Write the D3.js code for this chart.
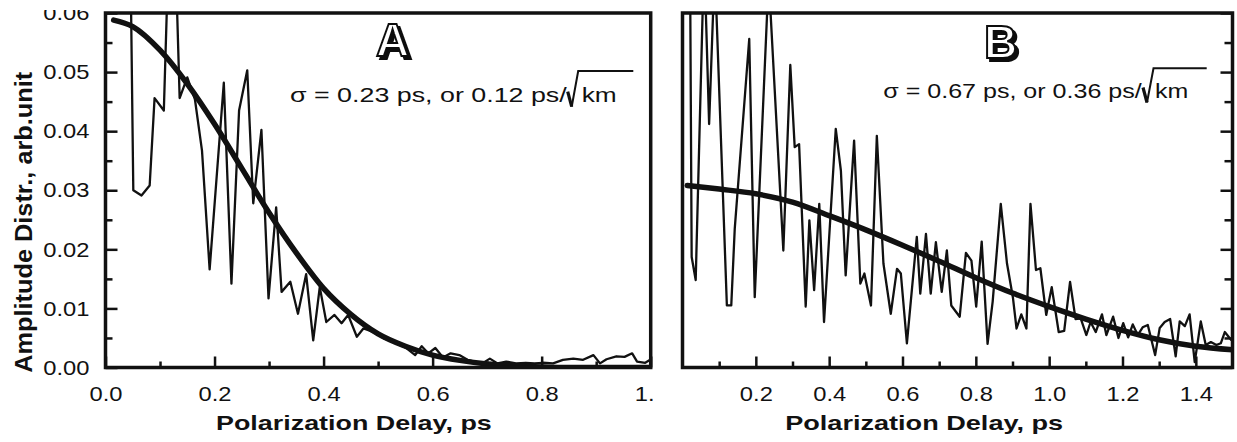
<!DOCTYPE html>
<html>
<head>
<meta charset="utf-8">
<script src="https://cdn.jsdelivr.net/npm/d3@7"></script>
<style>
  body { margin: 0; background: #fff; }
  svg text { font-family: "Liberation Sans", Arial, Helvetica, sans-serif; fill: #111; }
</style>
</head>
<body>
<svg id="fig" width="1237" height="442"></svg>
<script>
// ---- panel A: measured distribution, delay in ps / amplitude in arb.unit
const delayA = [0.045, 0.051, 0.066, 0.081, 0.090, 0.107, 0.122, 0.136, 0.150, 0.164,
  0.177, 0.191, 0.217, 0.231, 0.245, 0.260, 0.271, 0.286, 0.299, 0.313,
  0.323, 0.339, 0.353, 0.368, 0.381, 0.393, 0.405, 0.420, 0.433, 0.445,
  0.461, 0.473, 0.486, 0.499, 0.511, 0.524, 0.537, 0.550, 0.568, 0.580,
  0.592, 0.605, 0.619, 0.633, 0.649, 0.664, 0.679, 0.691, 0.705, 0.719,
  0.735, 0.753, 0.771, 0.787, 0.802, 0.821, 0.839, 0.858, 0.876, 0.895,
  0.907, 0.919, 0.937, 0.952, 0.966, 0.975, 0.990, 0.999];
const ampA = [0.075, 0.0300, 0.0291, 0.0308, 0.0456, 0.0435, 0.090, 0.0456, 0.0491, 0.0454,
  0.0367, 0.0166, 0.0482, 0.0142, 0.0435, 0.0503, 0.0278, 0.0402, 0.0117, 0.0271,
  0.0128, 0.0145, 0.0091, 0.0158, 0.0046, 0.0136, 0.0077, 0.0089, 0.0075, 0.0089,
  0.0052, 0.0066, 0.0062, 0.0057, 0.0049, 0.0046, 0.0039, 0.0034, 0.0021, 0.0036,
  0.0024, 0.0033, 0.0017, 0.0024, 0.0021, 0.0013, 0.0009, 0.0007, 0.0015, 0.0007,
  0.0010, 0.0007, 0.0008, 0.0007, 0.0008, 0.0007, 0.0013, 0.0015, 0.0013, 0.0021,
  0.0007, 0.0014, 0.0019, 0.0018, 0.0024, 0.0010, 0.0008, 0.0013];
// panel A: gaussian fit curve
const fitDelayA = [0.015, 0.05, 0.10, 0.15, 0.20, 0.25, 0.30, 0.35, 0.40, 0.45,
  0.50, 0.55, 0.60, 0.65, 0.70, 0.75, 0.80, 0.85, 1.00];
const fitA = [0.0588, 0.0577, 0.0537, 0.0480, 0.0412, 0.0337, 0.0262, 0.0194, 0.0134, 0.0090,
  0.0057, 0.0036, 0.0021, 0.0012, 0.0006, 0.0003, 0.0001, 0.0, 0.0];

// ---- panel B
const delayB = [0.020, 0.025, 0.036, 0.059, 0.0726, 0.088, 0.121, 0.133, 0.1425, 0.182,
  0.197, 0.235, 0.275, 0.294, 0.306, 0.318, 0.336, 0.346, 0.359, 0.373,
  0.386, 0.418, 0.432, 0.445, 0.468, 0.485, 0.496, 0.514, 0.530, 0.548,
  0.568, 0.585, 0.5955, 0.612, 0.639, 0.6485, 0.664, 0.677, 0.691, 0.707,
  0.721, 0.733, 0.756, 0.773, 0.788, 0.801, 0.816, 0.832, 0.846, 0.868,
  0.885, 0.901, 0.911, 0.924, 0.938, 0.949, 0.964, 0.976, 0.992, 1.007,
  1.026, 1.041, 1.057, 1.072, 1.086, 1.1015, 1.113, 1.127, 1.144, 1.156,
  1.1745, 1.189, 1.202, 1.2155, 1.228, 1.2415, 1.255, 1.269, 1.289, 1.3015,
  1.315, 1.330, 1.345, 1.356, 1.370, 1.383, 1.397, 1.4135, 1.427, 1.441,
  1.456, 1.468, 1.479, 1.497];
const ampB = [0.075, 0.0187, 0.0148, 0.070, 0.0412, 0.068, 0.0105, 0.0105, 0.0235, 0.0556,
  0.0119, 0.066, 0.0198, 0.0512, 0.0373, 0.0378, 0.0103, 0.0249, 0.0131, 0.0277,
  0.0077, 0.0404, 0.0333, 0.0156, 0.0384, 0.0142, 0.0159, 0.0105, 0.0392, 0.0176,
  0.0091, 0.0167, 0.0159, 0.0041, 0.0221, 0.0125, 0.0226, 0.0125, 0.0212, 0.0128,
  0.0198, 0.0105, 0.0086, 0.0194, 0.0181, 0.0103, 0.0213, 0.0040, 0.0112, 0.0277,
  0.0176, 0.0119, 0.0066, 0.0090, 0.0066, 0.0277, 0.0165, 0.0168, 0.0089, 0.0136,
  0.0060, 0.0062, 0.0145, 0.0082, 0.0083, 0.0055, 0.0077, 0.0060, 0.0090, 0.0055,
  0.0086, 0.0050, 0.0075, 0.0051, 0.0073, 0.0055, 0.0068, 0.0072, 0.0021, 0.0067,
  0.0077, 0.0082, 0.0019, 0.0078, 0.0070, 0.0090, 0.0009, 0.0078, 0.0038, 0.0043,
  0.0038, 0.0041, 0.0060, 0.0046];
const fitDelayB = [0.013, 0.10, 0.20, 0.30, 0.40, 0.50, 0.60, 0.70, 0.80, 0.90,
  1.00, 1.10, 1.20, 1.30, 1.40, 1.50];
const fitB = [0.0308, 0.0302, 0.0294, 0.0280, 0.0257, 0.0233, 0.0207, 0.0180, 0.0152, 0.0126,
  0.0103, 0.0082, 0.0063, 0.0047, 0.0036, 0.0030];

// ---- ticks and texts
const yTicks = [0, 0.01, 0.02, 0.03, 0.04, 0.05, 0.06];
const yMinor = [0.005, 0.015, 0.025, 0.035, 0.045, 0.055];
const xTicksA = [0, 0.2, 0.4, 0.6, 0.8, 1.0];
const xMinorA = [0.1, 0.3, 0.5, 0.7, 0.9];
const xTicksB = [0.2, 0.4, 0.6, 0.8, 1.0, 1.2, 1.4];
const xMinorB = [0.1, 0.3, 0.5, 0.7, 0.9, 1.1, 1.3];
const yTitle = "Amplitude Distr., arb.unit";
const xTitle = "Polarization Delay, ps";
const sigmaA = "σ = 0.23 ps, or 0.12 ps/";
const sigmaB = "σ = 0.67 ps, or 0.36 ps/";

const svg = d3.select("#fig");
svg.append("rect").attr("width", 1237).attr("height", 442).attr("fill", "#fff");

const TOP = 13, BOT = 367.5;
const y = d3.scaleLinear().domain([0, 0.06]).range([BOT, TOP]);
const xA = d3.scaleLinear().domain([0, 1.0]).range([105.5, 650.7]);
const xB = d3.scaleLinear().domain([0, 1.5]).range([682.5, 1232.5]);

const defs = svg.append("defs");
var addClip = (id, x, yy, w, h) => {
  defs.append("clipPath").attr("id", id)
    .append("rect").attr("x", x).attr("y", yy).attr("width", w).attr("height", h);
};
addClip("plotA", xA(0), TOP, xA(1) - xA(0), BOT - TOP);
addClip("plotB", xB(0), TOP, xB(1.5) - xB(0), BOT - TOP);
addClip("labelsA", 0, 10, 653, 432);

// drop shadow for the outlined panel letters
const shadow = defs.append("filter").attr("id", "shadow")
  .attr("x", "-20%").attr("y", "-20%").attr("width", "160%").attr("height", "160%");
shadow.append("feOffset").attr("in", "SourceAlpha").attr("dx", 3).attr("dy", 3).attr("result", "off");
shadow.append("feFlood").attr("flood-color", "#111").attr("result", "ink");
shadow.append("feComposite").attr("in", "ink").attr("in2", "off").attr("operator", "in").attr("result", "drop");
const merge = shadow.append("feMerge");
merge.append("feMergeNode").attr("in", "drop");
merge.append("feMergeNode").attr("in", "SourceGraphic");

// widen text to the look of the scanned figure
var stretch = (sel, k) => {
  sel.each(function () {
    if (!this.textContent) return;
    const L = this.getComputedTextLength();
    d3.select(this).attr("textLength", L * k).attr("lengthAdjust", "spacingAndGlyphs");
  });
};
var fitWidth = (sel, w) => sel.attr("textLength", w).attr("lengthAdjust", "spacingAndGlyphs");

var drawSeries = (x, xs, ys, fx, fy, clipId) => {
  const g = svg.append("g").attr("clip-path", "url(#" + clipId + ")");
  const line = d3.line().x(d => x(d[0])).y(d => y(d[1]));
  g.append("path").datum(d3.zip(xs, ys)).attr("d", line)
    .attr("fill", "none").attr("stroke", "#111").attr("stroke-width", 2.3)
    .attr("stroke-linejoin", "round");
  g.append("path").datum(d3.zip(fx, fy)).attr("d", line.curve(d3.curveMonotoneX))
    .attr("fill", "none").attr("stroke", "#111").attr("stroke-width", 5.5)
    .attr("stroke-linejoin", "round").attr("stroke-linecap", "round");
};
drawSeries(xA, delayA, ampA, fitDelayA, fitA, "plotA");
drawSeries(xB, delayB, ampB, fitDelayB, fitB, "plotB");

var styleAxis = (g) => {
  g.attr("font-family", null).attr("font-size", 21);
  g.select(".domain").remove();
  g.selectAll(".tick line").attr("stroke", "#111").attr("stroke-width", 2.5);
  g.selectAll(".tick text").attr("fill", "#111");
};

// panel A axes (labels clipped like the scanned original)
const labA = svg.append("g").attr("clip-path", "url(#labelsA)");
labA.append("g").attr("transform", "translate(" + xA(0) + ",0)")
  .call(d3.axisLeft(y).tickValues(yTicks).tickSize(-12).tickPadding(16).tickFormat(d3.format(".2f")))
  .call(styleAxis);
labA.append("g").attr("transform", "translate(" + xA(0) + ",0)")
  .call(d3.axisLeft(y).tickValues(yMinor).tickSize(-7).tickFormat(""))
  .call(styleAxis);
labA.append("g").attr("transform", "translate(0," + BOT + ")")
  .call(d3.axisBottom(xA).tickValues(xTicksA).tickSize(-11).tickPadding(19).tickFormat(d3.format(".1f")))
  .call(styleAxis);
labA.append("g").attr("transform", "translate(0," + BOT + ")")
  .call(d3.axisBottom(xA).tickValues(xMinorA).tickSize(-6).tickFormat(""))
  .call(styleAxis);

// panel B axes
svg.append("g").attr("transform", "translate(" + xB(1.5) + ",0)")
  .call(d3.axisRight(y).tickValues(yTicks).tickSize(-12).tickFormat(""))
  .call(styleAxis);
svg.append("g").attr("transform", "translate(" + xB(1.5) + ",0)")
  .call(d3.axisRight(y).tickValues(yMinor).tickSize(-8).tickFormat(""))
  .call(styleAxis);
svg.append("g").attr("transform", "translate(0," + BOT + ")")
  .call(d3.axisBottom(xB).tickValues(xTicksB).tickSize(-11).tickPadding(19).tickFormat(d3.format(".1f")))
  .call(styleAxis);
svg.append("g").attr("transform", "translate(0," + BOT + ")")
  .call(d3.axisBottom(xB).tickValues(xMinorB).tickSize(-6).tickFormat(""))
  .call(styleAxis);

stretch(svg.selectAll(".tick text"), 1.13);

// frames
[[xA, 1.0], [xB, 1.5]].forEach(([x, hi]) => {
  svg.append("rect").attr("x", x(0)).attr("y", TOP)
    .attr("width", x(hi) - x(0)).attr("height", BOT - TOP)
    .attr("fill", "none").attr("stroke", "#111").attr("stroke-width", 3.5);
});

// axis titles
svg.append("text").attr("transform", "translate(31.7,222.3) rotate(-90)")
  .attr("text-anchor", "middle").attr("font-weight", "bold").attr("font-size", 23)
  .text(yTitle).call(fitWidth, 301);
svg.append("text").attr("x", 353.9).attr("y", 430).attr("text-anchor", "middle")
  .attr("font-weight", "bold").attr("font-size", 21).text(xTitle).call(fitWidth, 275.7);
svg.append("text").attr("x", 924.2).attr("y", 430).attr("text-anchor", "middle")
  .attr("font-weight", "bold").attr("font-size", 21).text(xTitle).call(fitWidth, 278);

// sigma annotations with a drawn radical
var sigma = (txt, x0, x1, k0, k1, base, rx, overY, overEnd) => {
  svg.append("text").attr("x", x0).attr("y", base).attr("font-size", 20)
    .text(txt).call(fitWidth, x1 - x0);
  svg.append("text").attr("x", k0).attr("y", base).attr("font-size", 20)
    .text("km").call(fitWidth, k1 - k0);
  svg.append("path")
    .attr("d", "M" + (rx - 4) + "," + (base - 10) + "L" + rx + "," + (base + 5))
    .attr("stroke", "#111").attr("stroke-width", 3.2).attr("fill", "none");
  svg.append("path")
    .attr("d", "M" + rx + "," + (base + 5) + "L" + (rx + 6.5) + "," + overY + "L" + overEnd + "," + overY)
    .attr("stroke", "#111").attr("stroke-width", 2).attr("fill", "none");
};
sigma(sigmaA, 290, 566.7, 581.7, 616.7, 101.7, 571.7, 71, 633.3);
sigma(sigmaB, 883.3, 1141.7, 1155, 1188.3, 97.5, 1147, 68.3, 1206.7);

// outlined panel letters with drop shadow
var panelLetter = (txt, cx, base) => {
  svg.append("text").attr("x", cx).attr("y", base).text(txt)
    .attr("text-anchor", "middle").attr("font-weight", "bold").attr("font-size", 46)
    .style("fill", "#fff").attr("stroke", "#111").attr("stroke-width", 2)
    .attr("filter", "url(#shadow)");
};
panelLetter("A", 392.5, 55.5);
panelLetter("B", 1000.5, 58);
</script>
</body>
</html>
